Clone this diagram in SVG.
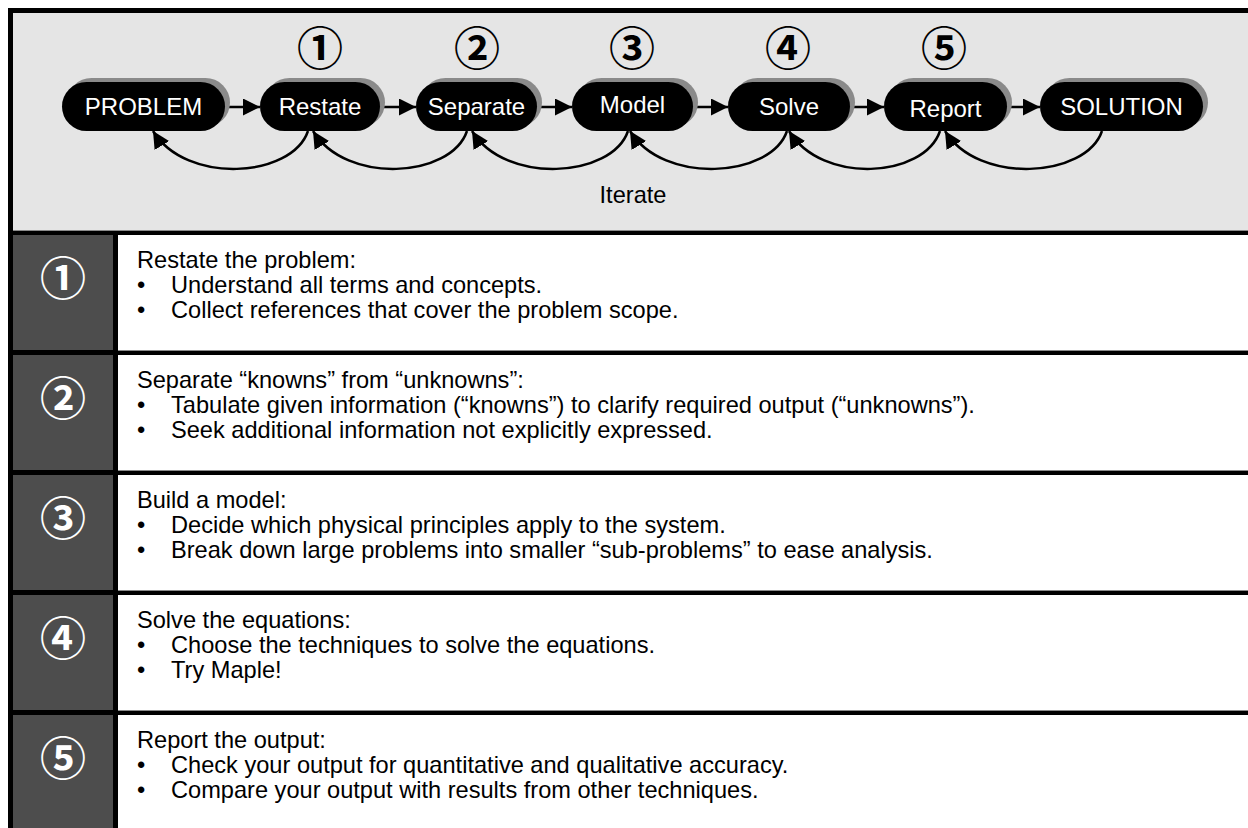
<svg xmlns="http://www.w3.org/2000/svg" width="1248" height="828" viewBox="0 0 1248 828">
<style>
.pill{fill:#000}
.shadow{fill:#8a8a8a}
.ptxt{fill:#fff;font-family:"Liberation Sans",Arial,sans-serif;font-size:24px;text-anchor:middle}
.circ{font-family:"Noto Sans CJK JP","DejaVu Sans",sans-serif;font-weight:bold;font-size:46px;text-anchor:middle;dominant-baseline:central}
.body{fill:#000;font-family:"Liberation Sans",Arial,sans-serif;font-size:23.6px}
.conn{fill:none;stroke:#000;stroke-width:2.5}
.hl{fill:#000}
.hlg{fill:#8a8a8a}
</style>
<defs>
<marker id="ah" markerUnits="userSpaceOnUse" markerWidth="18" markerHeight="17" refX="17" refY="8.5" orient="auto">
<path d="M0,0 L17,8.5 L0,17 z" fill="#000"/>
</marker>
</defs>
<rect x="0" y="0" width="1248" height="828" fill="#fff"/>
<rect x="13" y="13" width="1235" height="217" fill="#e5e5e5"/>
<rect x="13" y="235" width="100" height="593" fill="#4d4d4d"/>
<g id="frame">
<rect x="8" y="8" width="5" height="820" class="hl"/>
<rect x="8" y="8" width="1240" height="5" class="hl"/>
<rect x="113" y="235" width="5" height="593" class="hl"/>
<rect x="8" y="230" width="1240" height="5" class="hl"/>
<rect x="13" y="230" width="1235" height="1" class="hlg"/>
<rect x="8" y="350" width="1240" height="5" class="hl"/>
<rect x="118" y="350" width="1130" height="1" class="hlg"/>
<rect x="8" y="470" width="1240" height="5" class="hl"/>
<rect x="118" y="470" width="1130" height="1" class="hlg"/>
<rect x="8" y="590" width="1240" height="5" class="hl"/>
<rect x="118" y="590" width="1130" height="1" class="hlg"/>
<rect x="8" y="710" width="1240" height="5" class="hl"/>
<rect x="118" y="710" width="1130" height="1" class="hlg"/>
</g>
<g id="step-numbers">
<text class="circ" x="320" y="45" fill="#000">①</text>
<text class="circ" x="477" y="45" fill="#000">②</text>
<text class="circ" x="632" y="45" fill="#000">③</text>
<text class="circ" x="788" y="45" fill="#000">④</text>
<text class="circ" x="944" y="45" fill="#000">⑤</text>
</g>
<g id="connectors">
<line class="conn" x1="226" y1="107" x2="260" y2="107" marker-end="url(#ah)"/>
<line class="conn" x1="381" y1="107" x2="416" y2="107" marker-end="url(#ah)"/>
<line class="conn" x1="538" y1="107" x2="572" y2="107" marker-end="url(#ah)"/>
<line class="conn" x1="694" y1="107" x2="728" y2="107" marker-end="url(#ah)"/>
<line class="conn" x1="851" y1="107" x2="884" y2="107" marker-end="url(#ah)"/>
<line class="conn" x1="1008" y1="107" x2="1040" y2="107" marker-end="url(#ah)"/>
<path class="conn" d="M308,131 C292,178 186,185 153,131" marker-end="url(#ah)"/>
<path class="conn" d="M467,131 C451,178 346,185 313,131" marker-end="url(#ah)"/>
<path class="conn" d="M628,131 C612,178 505,185 472,131" marker-end="url(#ah)"/>
<path class="conn" d="M787,131 C771,178 663,185 630,131" marker-end="url(#ah)"/>
<path class="conn" d="M940,131 C924,178 822,185 789,131" marker-end="url(#ah)"/>
<path class="conn" d="M1102,131 C1086,178 978,185 945,131" marker-end="url(#ah)"/>
</g>
<g id="node-problem">
<rect class="shadow" x="67" y="78" width="163" height="49" rx="24.5"/>
<rect class="pill" x="62" y="82" width="163" height="49" rx="24.5"/>
<text class="ptxt" x="143.5" y="115">PROBLEM</text>
</g>
<g id="node-restate">
<rect class="shadow" x="265" y="78" width="120" height="49" rx="24.5"/>
<rect class="pill" x="260" y="82" width="120" height="49" rx="24.5"/>
<text class="ptxt" x="320" y="115">Restate</text>
</g>
<g id="node-separate">
<rect class="shadow" x="421" y="78" width="121" height="49" rx="24.5"/>
<rect class="pill" x="416" y="82" width="121" height="49" rx="24.5"/>
<text class="ptxt" x="476.5" y="115">Separate</text>
</g>
<g id="node-model">
<rect class="shadow" x="577" y="78" width="121" height="49" rx="24.5"/>
<rect class="pill" x="572" y="82" width="121" height="49" rx="24.5"/>
<text class="ptxt" x="632.5" y="113">Model</text>
</g>
<g id="node-solve">
<rect class="shadow" x="733" y="78" width="122" height="49" rx="24.5"/>
<rect class="pill" x="728" y="82" width="122" height="49" rx="24.5"/>
<text class="ptxt" x="789" y="115">Solve</text>
</g>
<g id="node-report">
<rect class="shadow" x="889" y="78" width="123" height="49" rx="24.5"/>
<rect class="pill" x="884" y="82" width="123" height="49" rx="24.5"/>
<text class="ptxt" x="945.5" y="117">Report</text>
</g>
<g id="node-solution">
<rect class="shadow" x="1045" y="78" width="163" height="49" rx="24.5"/>
<rect class="pill" x="1040" y="82" width="163" height="49" rx="24.5"/>
<text class="ptxt" x="1121.5" y="115">SOLUTION</text>
</g>
<text id="iterate" x="633" y="203" class="body" text-anchor="middle">Iterate</text>
<g id="row-1">
<text class="circ" x="63" y="275" fill="#fff">①</text>
<text class="body" x="137" y="268">Restate the problem:</text>
<text class="body" x="137" y="293">•</text><text class="body" x="171" y="293">Understand all terms and concepts.</text>
<text class="body" x="137" y="318">•</text><text class="body" x="171" y="318">Collect references that cover the problem scope.</text>
</g>
<g id="row-2">
<text class="circ" x="63" y="395" fill="#fff">②</text>
<text class="body" x="137" y="388">Separate “knowns” from “unknowns”:</text>
<text class="body" x="137" y="413">•</text><text class="body" x="171" y="413">Tabulate given information (“knowns”) to clarify required output (“unknowns”).</text>
<text class="body" x="137" y="438">•</text><text class="body" x="171" y="438">Seek additional information not explicitly expressed.</text>
</g>
<g id="row-3">
<text class="circ" x="63" y="515" fill="#fff">③</text>
<text class="body" x="137" y="508">Build a model:</text>
<text class="body" x="137" y="533">•</text><text class="body" x="171" y="533">Decide which physical principles apply to the system.</text>
<text class="body" x="137" y="558">•</text><text class="body" x="171" y="558">Break down large problems into smaller “sub-problems” to ease analysis.</text>
</g>
<g id="row-4">
<text class="circ" x="63" y="635" fill="#fff">④</text>
<text class="body" x="137" y="628">Solve the equations:</text>
<text class="body" x="137" y="653">•</text><text class="body" x="171" y="653">Choose the techniques to solve the equations.</text>
<text class="body" x="137" y="678">•</text><text class="body" x="171" y="678">Try Maple!</text>
</g>
<g id="row-5">
<text class="circ" x="63" y="755" fill="#fff">⑤</text>
<text class="body" x="137" y="748">Report the output:</text>
<text class="body" x="137" y="773">•</text><text class="body" x="171" y="773">Check your output for quantitative and qualitative accuracy.</text>
<text class="body" x="137" y="798">•</text><text class="body" x="171" y="798">Compare your output with results from other techniques.</text>
</g>
</svg>
